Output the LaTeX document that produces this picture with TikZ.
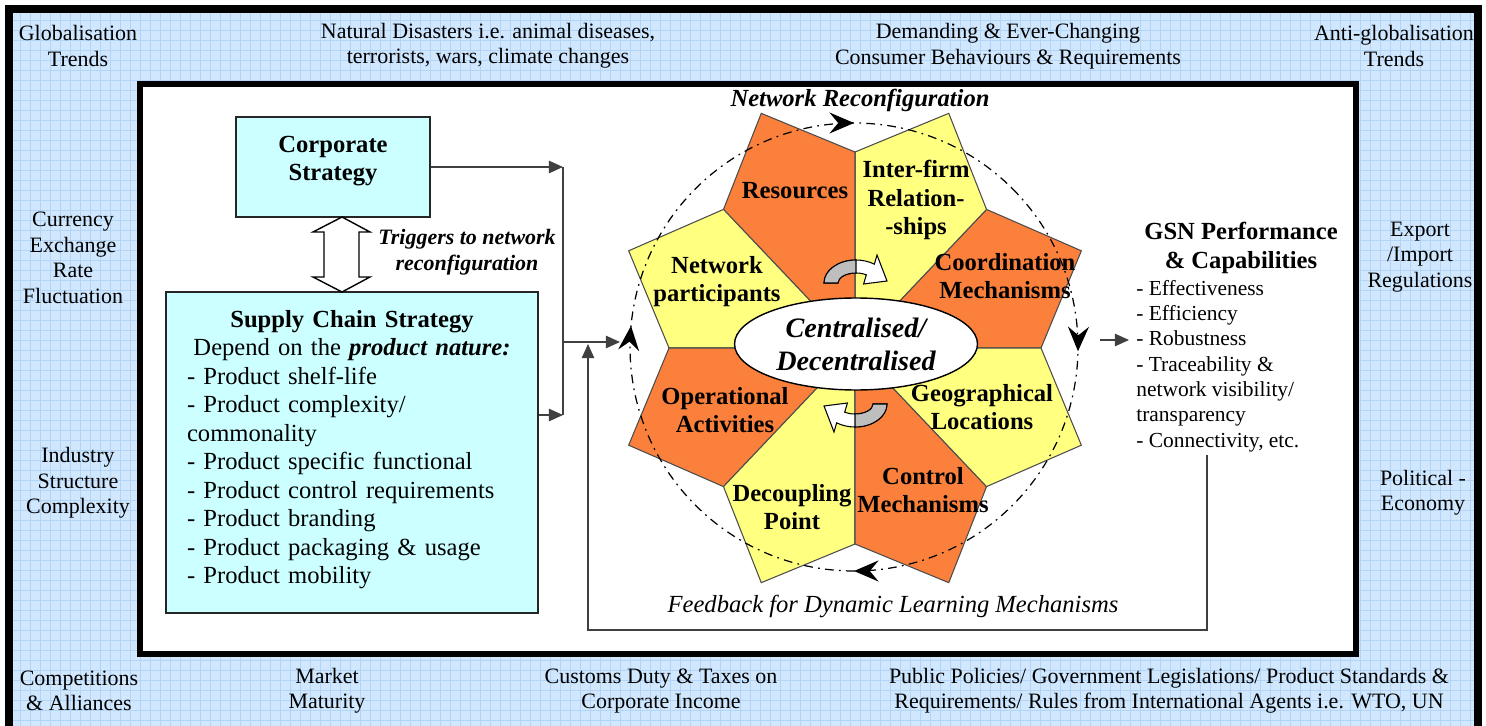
\documentclass[tikz,border=0pt]{standalone}
\usepackage{fontspec}
\setmainfont{Liberation Serif}
\usetikzlibrary{arrows.meta,shapes.geometric,decorations.markings}
\definecolor{envblue}{RGB}{208,231,253}
\definecolor{gridblue}{RGB}{178,212,247}
\definecolor{boxcyan}{RGB}{204,255,255}
\definecolor{petalor}{RGB}{250,128,60}
\definecolor{petalye}{RGB}{255,255,128}
\definecolor{turngray}{RGB}{190,190,190}

\tikzset{
    envtext/.style={align=center, inner sep=0pt, font=\fontsize{12.5}{14.5}\selectfont},
    stratbox/.style={draw=black!85, fill=boxcyan, line width=0.8pt},
    petal/.style={draw=black!70, line width=0.6pt},
    petaltext/.style={align=center, inner sep=0pt, font=\bfseries\fontsize{14}{16}\selectfont},
    flow/.style={draw=black!75, line width=0.9pt, -{Triangle[length=8pt,width=7pt]}},
    cycleloop/.style={line width=0.7pt, dash pattern=on 5pt off 3pt on 1pt off 3pt,
        postaction={decorate}, decoration={markings,
            mark=at position 0.128 with {\arrow{Stealth[length=14pt,width=12pt,inset=5pt]}},
            mark=at position 0.375 with {\arrow{Stealth[length=14pt,width=12pt,inset=5pt]}},
            mark=at position 0.64 with {\arrow{Stealth[length=14pt,width=12pt,inset=5pt]}},
            mark=at position 0.875 with {\arrow{Stealth[length=14pt,width=12pt,inset=5pt]}}}},
    swaparrow/.pic={
        \filldraw[fill=white, draw=black, line width=0.6pt] (-32,0) arc[start angle=180, end angle=55, x radius=32, y radius=23]
            -- (21,28) -- (31,2) -- (7.6,-1) -- (10.3,8.2) arc[start angle=55, end angle=180, x radius=18, y radius=10] -- cycle;
        \filldraw[fill=turngray, draw=black, line width=0.6pt] (-32,0) arc[start angle=180, end angle=90, x radius=32, y radius=23]
            -- (0,10) arc[start angle=90, end angle=180, x radius=18, y radius=10] -- cycle;
    }
}

\begin{document}
\begin{tikzpicture}[x=0.02cm, y=0.02cm]
        \useasboundingbox (0,0) rectangle (1486,-726);
        \fill[envblue] (9,-9) rectangle (1478,-730);
        \draw[gridblue, line width=0.25pt] (9,-9) grid[step=10] (1478,-730);
        \draw[line width=4.5pt] (9,-9) rectangle (1478,-730);
        \filldraw[fill=white, draw=black, line width=3.4pt] (140,-84) rectangle (1356,-654);

        \node[envtext] (glob) at (78,-46) {Globalisation\\Trends};
        \node[envtext] (nat) at (488,-46) {Natural Disasters i.e. animal diseases,\\terrorists, wars, climate changes};
        \node[envtext] (dem) at (1008,-46) {Demanding \& Ever-Changing\\Consumer Behaviours \& Requirements};
        \node[envtext] (anti) at (1394,-46) {Anti-globalisation\\Trends};
        \node[envtext] (curr) at (73,-258) {Currency\\Exchange\\Rate\\Fluctuation};
        \node[envtext] (ind) at (78,-483) {Industry\\Structure\\Complexity};
        \node[envtext] (expo) at (1420,-257) {Export\\/Import\\Regulations};
        \node[envtext] (pol) at (1423,-493) {Political -\\Economy};
        \node[envtext] (compet) at (79,-691) {Competitions\\\& Alliances};
        \node[envtext] (mkt) at (327,-691) {Market\\Maturity};
        \node[envtext] (cust) at (661,-691) {Customs Duty \& Taxes on\\Corporate Income};
        \node[envtext] (pub) at (1169,-691) {Public Policies/ Government Legislations/ Product Standards \&\\Requirements/ Rules from International Agents i.e. WTO, UN};

        \node[stratbox, minimum width=3.88cm, minimum height=2cm, align=center,
            font=\bfseries\fontsize{14}{16}\selectfont] (cs) at (333,-167) {Corporate\\Strategy\\[-6pt]\mbox{}};
        \node[stratbox, minimum width=7.44cm, minimum height=6.42cm, text width=6.6cm, align=left,
            font=\fontsize{14}{16.2}\selectfont] (scs) at (352,-452.5)
            {{\centering\textbf{Supply Chain Strategy}\\Depend on the \textbf{\textit{product nature:}}\par}
            - Product shelf-life\\
            - Product complexity/\\
            commonality\\
            - Product specific functional\\
            - Product control requirements\\
            - Product branding\\
            - Product packaging \& usage\\
            - Product mobility\\[-10pt]\mbox{}};

        \coordinate (dtop) at (342,-217);
        \coordinate (dbot) at (342,-292);
        \filldraw[fill=white, draw=black, line width=0.8pt] (dtop) -- ++(28,-15) -- ++(-11,0) -- ++(0,-45) -- ++(11,0)
            -- (dbot) -- ++(-29,15) -- ++(11,0) -- ++(0,45) -- ++(-11,0) -- cycle;
        \node[align=center, inner sep=0pt, font=\bfseries\itshape\fontsize{12.5}{14.5}\selectfont] (trig) at (467,-252)
            {Triggers to network\\reconfiguration};

        \begin{scope}[shift={(855,-348)}]
            \foreach \a/\col in {0/petalor,45/petalye,90/petalor,135/petalye,180/petalor,225/petalye,270/petalor,315/petalye}
                \filldraw[petal, fill=\col] (0,0) -- (\a:186 and 196) -- (\a+22.5:245 and 254) -- (\a+45:186 and 196) -- cycle;
        \end{scope}
        \draw[cycleloop] (854,-347) ++(45:224) arc[start angle=45, end angle=-315, radius=224];

        \node[ellipse, draw, fill=white, line width=0.8pt, minimum width=4.86cm, minimum height=1.84cm, inner sep=0pt,
            align=center, font=\bfseries\itshape\fontsize{16}{18.8}\selectfont] (cen) at (856,-344) {Centralised/\\Decentralised};
        \pic at (856,-283) {swaparrow};
        \pic[rotate=180] at (855,-404) {swaparrow};

        \node[petaltext] (res) at (795,-191) {Resources};
        \node[petaltext] (ifr) at (916,-200) {Inter-firm\\Relation-\\-ships};
        \node[petaltext] (coord) at (1005,-276) {Coordination\\Mechanisms};
        \node[petaltext] (netp) at (717,-282) {Network\\participants};
        \node[petaltext] (opact) at (725,-410) {Operational\\Activities};
        \node[petaltext] (geo) at (982,-407) {Geographical\\Locations};
        \node[petaltext] (decp) at (792,-507) {Decoupling\\Point};
        \node[petaltext] (ctrl) at (923,-490) {Control\\Mechanisms};

        \node[inner sep=0pt, font=\bfseries\itshape\fontsize{14}{16}\selectfont] (netrec) at (860,-100) {Network Reconfiguration};
        \node[inner sep=0pt, font=\itshape\fontsize{14}{16}\selectfont] (fblabel) at (893,-606) {Feedback for Dynamic Learning Mechanisms};

        \node[align=center, inner sep=0pt, font=\bfseries\fontsize{14}{17}\selectfont] (gsnhead) at (1241,-248)
            {GSN Performance\\\& Capabilities};
        \node[anchor=west, align=left, inner sep=0pt, font=\fontsize{12.2}{14.4}\selectfont] (gsnlist) at (1136,-366)
            {- Effectiveness\\- Efficiency\\- Robustness\\- Traceability \&\\network visibility/\\transparency\\- Connectivity, etc.};

        \coordinate (jtop) at (563,-167);
        \coordinate (jmid) at (563,-342);
        \coordinate (jbot) at (563,-415);
        \coordinate (loopin) at (620,-342);
        \coordinate (gsnin) at (1100,-340);
        \coordinate (gsntip) at (1129,-340);
        \coordinate (fbstart) at (1207,-455);
        \coordinate (fbcorner) at (588,-630);
        \coordinate (fbend) at (588,-344);

        \draw[flow] (cs.east) -- (jtop);
        \draw[flow] (scs.east |- jbot) -- (jbot);
        \draw[draw=black!75, line width=0.9pt] (jtop) -- (jbot);
        \draw[flow] (jmid) -- (loopin);
        \draw[flow] (gsnin) -- (gsntip);
        \draw[flow] (fbstart) |- (fbcorner) -- (fbend);
\end{tikzpicture}
\end{document}
